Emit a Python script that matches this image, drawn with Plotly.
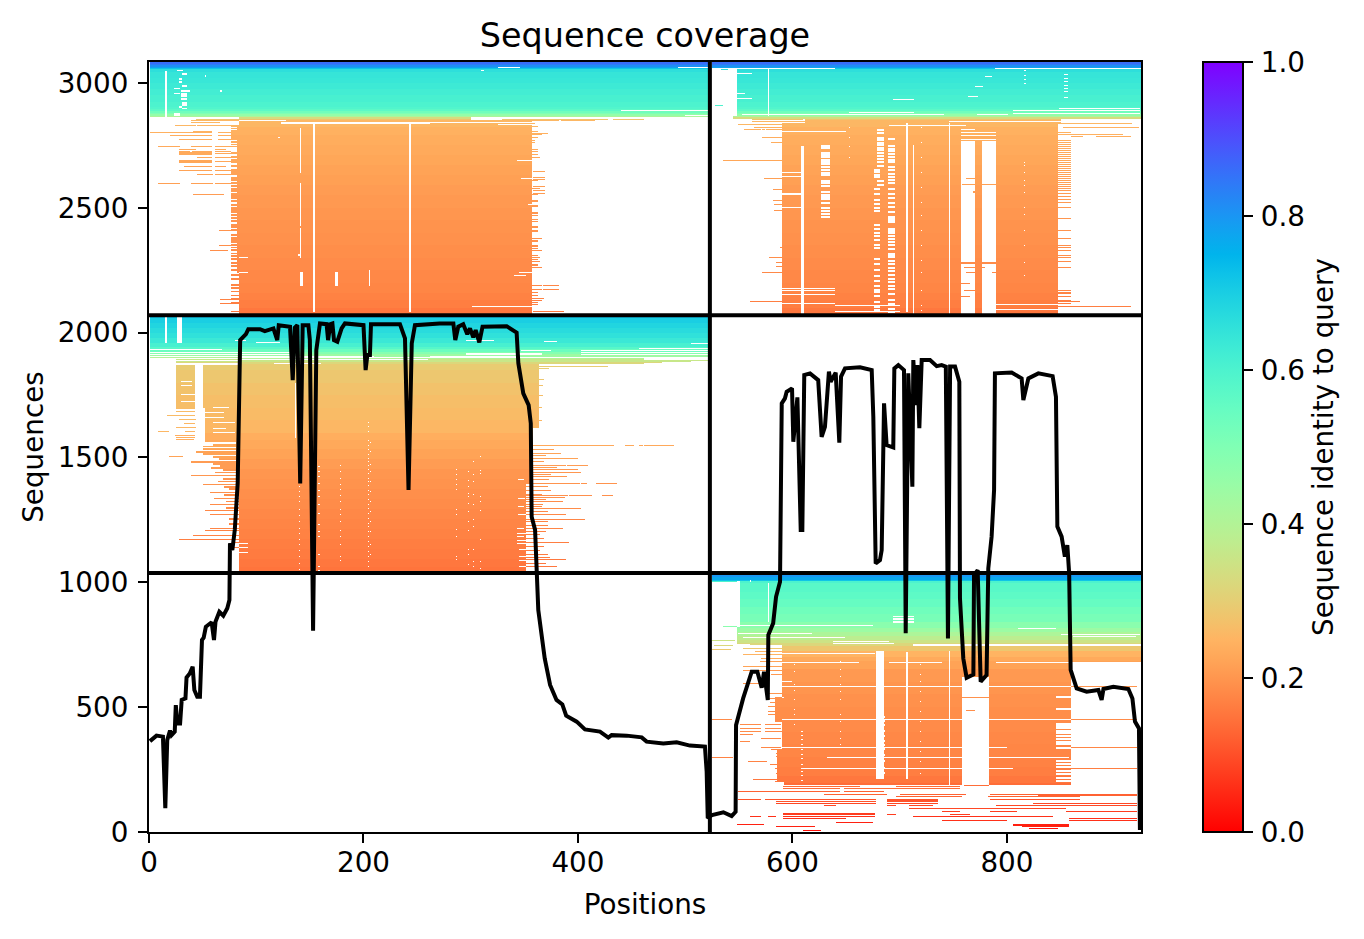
import math
import numpy as np
import plotly.graph_objects as go

N_SEQ = 3084
N_POS = 925
ROW = 4
SPLIT_POS = 523
SPLIT_SEQ = [1037, 2070]

# ---- coverage curve (position, sequences)
COV_POS = [0.9,7,13,15.2,17,19.6,21,24,25,26.4,29,30.5,34,35,38,40.7,42.3,45,47.5,49.4,51,53,58.4,60.6,62,65.6,69.3,73,75,75.5,
 77.7,80,82.7,84,85,90.4,92.6,103.5,108,116,119.6,121,131.5,134,136,138.3,141,143.3,148.6,150,153,156,159.4,165.6,167,169,171,172.5,175.6,179.6,182.7,200,202,203.6,206,207,234,238.7,242,245,248,271,
 283.8,285.6,288.4,293,296.8,299.3,302.4,304.6,308,311,333.5,342.8,344.4,349,354,356,356.8,360,362,363,369,374,380,385.4,389,398.8,406.5,420.5,428.3,431.4,445.4,459.4,464,479.6,492,504.4,518.4,520,521,
 525,535.6,543.3,547,547.4,554,560.4,562,567.3,571.3,573.5,577,577.5,582,584.7,588.4,590,593,594.6,599.6,600.8,604.6,607.7,609.2,611,616.4,624,627.2,630.3,634,635.6,640.3,643.7,645.3,649,663,673.9,675.4,677.6,681.6,683.2,685.4,687.8,694,695,698.7,704,705.6,708,711.8,712.7,715.2,716.5,718.3,720.5,728.3,734.5,739.1,743,745,747,751.6,755.6,756.2,759.3,762.4,768.7,769.3,772.7,775.5,781,782.6,785.7,788,788.8,804.4,813.7,815.3,820,829.3,842.6,845.7,847,851,854,856.3,858,859.4,865,874.3,885.2,888.3,890,899.2,913.2,917,919.4,923.1,924]
COV_SEQ = [364,386,382,95,368,406,388,402,508,435,435,529,535,619,635,662,569,542,542,769,778,822,840,769,842,882,866,896,929,1156,
 1129,1210,1396,1663,1970,1994,2014,2014,2006,2017,1970,2030,2024,1810,2020,2030,1396,2030,2030,1970,806,1930,2037,2034,1970,2034,2037,1970,1964,2017,2037,2030,1850,1910,1910,2034,2034,1977,1370,1957,2030,2037,
 2037,1970,2024,2034,1994,2017,1981,2010,1961,2024,2026,2000,1877,1757,1710,1637,1263,1210,1029,889,695,589,529,511,466,442,411,402,378,388,386,379,362,355,359,346,342,242,55,
 68,79,64,81,428,535,615,642,642,578,642,529,789,836,942,1002,1717,1737,1763,1777,1563,1741,1210,1210,1830,1837,1810,1583,1623,1844,1803,1840,1559,1824,1857,1861,1850,1663,1076,1089,1129,1717,1550,1540,1857,1870,1850,796,1837,1383,1890,1710,1870,1617,1890,1890,1866,1870,1864,775,1864,1864,1803,936,695,618,631,1029,1049,602,629,1056,1183,1370,1837,1840,1817,1730,1817,1837,1826,1743,1223,1183,1103,1149,1036,649,575,562,569,529,573,582,573,535,442,415,8]

# ---- identity per sequence band (upper edge of band, identity)
BAND_TOP = [3084,3076,3070,3064,3060,3056,3045,3020,3000,2975,2950,2925,2905,2895,2888,2880,2874,2868,2862,2856,2850,2825,2790,2750,2710,2670,2630,2590,2550,2500,2450,2400,2350,2300,2250,2200,2160,2130,2100,
 2070,2066,2060,2040,2020,2000,1980,1960,1945,1935,1925,1915,1905,1895,1885,1875,1850,1800,1750,1700,1650,1600,1570,1530,1490,1450,1410,1370,1330,1290,1250,1210,1170,1130,1090,1060,
 1037,1020,1008,1003,996,960,930,900,870,840,816,800,782,768,755,742,725,700,682,650,600,550,500,450,400,350,300,260,225,195,170,140,115,90,65,40,20]
BAND_ID = [.86,.84,.81,.78,.72,.66,.645,.64,.63,.62,.61,.60,.59,.57,.53,.50,.46,.41,.33,.28,.255,.245,.238,.232,.226,.22,.215,.21,.205,.20,.196,.192,.188,.184,.18,.176,.17,.165,.155,
 .90,.72,.70,.685,.67,.655,.635,.61,.58,.54,.49,.44,.40,.36,.32,.295,.285,.275,.268,.262,.255,.24,.23,.22,.21,.20,.195,.19,.185,.18,.175,.17,.165,.16,.155,.15,
 .80,.77,.72,.60,.575,.565,.55,.53,.515,.48,.445,.41,.38,.35,.32,.285,.25,.232,.22,.205,.198,.192,.188,.184,.18,.176,.17,.165,.155,.14,.125,.105,.09,.075,.06,.04,.02]

# ---- covered rectangles (seq_lo, seq_hi, pos_lo, pos_hi)
COVER = [
 (2865,3084,1,523),(2852,2865,84,300),(2070,2852,84,357),
 (3062,3084,525,925),(2865,3062,548,925),(2856,2865,545,925),(2838,2856,612,850),(2070,2838,590,847.5),
 (2240,2830,82,84),
 (1900,2070,1,523),(1877,1900,84,462),(1042,1877,84,344),(1623,1877,344,363.6),(1550,1623,344,358),(1395,1550,344,355),(1042,1395,344,352),
 (1703,1870,25,43),(1703,1870,50,84),(1565,1703,52,84),(1370,1565,81,84),
 (1003,1037,525,925),(755,1003,548,925),(682,755,590,925),(188,682,592,860),(330,682,590,592),(200,330,586,592),(440,540,584,590),
]
# ---- blank rectangles inside covered areas
GAPS = [
 # top-left block
 (2865,3048,15,16.5),(3048,3052,26,32),(3033,3037,31,35),(3014,3018,28,31),(3003,3007,28,31),(2985,2992,31,35),(2976,2980,23,29),(2966,2970,30,38),(2956,2960,23,29),(2945,2958,30,35),(2932,2938,30,35),(2909,2921,31,35),(2903,2907,28,31),(2896,2900,31,35),(2868,2878,23,29),
 (3024,3030,52,53),(2965,2969,66,68),
 (2084,2838,153,155),(2084,2838,242,243.5),(2640,2820,141,142),(2430,2600,141,142),(2300,2420,141,142),(2190,2244,141,144),(2191,2244,173,176),(2191,2251,205,206),
 (2310,2314,139,141),(2780,2784,120,122),
 # top-right block columns
 (2868,3056,577,578),(2084,2838,706,708),(2070,2750,712,713),(2070,2838,746,747),
 (2070,2765,757,770),(2070,2765,777,790),(2070,2745,608,611),
 (2440,2465,689,696),(2405,2420,689,696),(2300,2320,689,696),
 # middle block
 (1960,2066,15,16.5),(1960,2066,26,30.5),
 (1700,1870,43,50),(1565,1700,43,52),
 (1580,1800,136,137),
 # bottom-right block
 (215,722,678,685),(188,620,758,783),(215,720,706.5,708),(180,722,746,747),
 (842,996,577,578),(836,842,694,713),(849,853,694,713),(860,864,694,713),
 (820,1003,548,551),(1003,1008,560,561),
]
# ---- coloured single rows (seq, pos_lo, pos_hi)
STREAKS = [
 # top-left, left of main
 (2854,44,85),(2848,39,84),(2830,24,44),(2830,45,79),(2842,39,66),(2802,1,59),(2802,64,76),(2806,41,59),(2790,20,59),(2790,64,76),(2773,28,59),(2773,64,76),
 (2746,8,29),(2746,39,59),(2746,62,76),(2735,28,44),(2735,62,72),(2727,28,38),(2727,40,59),(2727,62,76),(2721,28,59),(2717,28,59),(2717,62,76),(2713,28,59),(2702,45,59),(2702,62,76),
 (2689,28,59),(2685,28,59),(2685,62,76),(2681,28,59),(2665,33,59),(2665,62,72),(2650,28,59),(2650,62,76),(2634,45,60),(2634,62,76),(2598,8,29),(2598,39,60),(2598,62,76),(2554,41,70),
 (2410,65,76),(2350,65,76),(2330,57,74),(2133,66,82),(2117,66,78),
 # top-left, right of main
 (2854,300,428),(2854,433,462),(2848,329,346),(2848,348,382),(2848,384,416),
 (2838,357,360),(2826,357,363),(2806,357,363),(2798,357,372),(2792,357,366),(2782,357,363),(2770,357,360),(2762,357,360),(2734,357,363),(2726,357,363),(2714,357,363),(2702,357,365),
 (2646,358,369),(2622,358,369),(2614,358,369),(2610,357,363),(2586,358,369),(2578,357,365),(2570,358,369),(2558,358,369),(2554,357,363),(2530,357,363),(2526,357,363),(2508,357,363),(2504,357,363),
 (2482,357,363),(2478,357,363),(2470,357,363),(2454,357,363),(2447,357,363),(2426,357,363),(2422,357,363),(2410,357,363),(2406,357,363),(2378,357,366),(2370,357,363),(2364,357,363),(2351,357,363),(2345,357,363),(2338,357,363),(2330,357,366),
 (2310,357,363),(2302,357,365),(2294,357,363),(2285,357,365),(2274,357,363),(2268,357,363),(2262,357,366),(2189,340,366),(2189,367,382),(2174,350,366),(2174,367,382),(2161,350,363),(2149,350,363),(2137,350,368),(2128,350,366),(2121,350,363),(2112,350,363),(2085,358,387),
 # top-right, left and right fringes
 (2852,562,610),(2845,562,630),(2832,549.5,630),(2821,564,590),(2812,555,571),(2812,572.5,590),(2782,572.5,590),(2762,580.6,590),(2690,535.6,590),(2618,573.4,590),(2574,582,590),(2530,582,590),(2514,583,590),(2491,583,590),(2342,588,590),(2302,578,590),(2282,585,590),(2266,585,590),(2242,572.5,590),(2127,560,590),
 (2836,845,916.5),(2821,852.5,923),(2794,860,908),(2784,860,871),(2784,883,916),(2168,847,856),(2127,847,868),(2105,847,916),
 (3055,533,540),(2908,528,535),(2690,535,590),
 # top-right, coloured bits over blank columns
 (2618,762,770),(2594,758,770),(2594,777,790),(2565,768,777),(2560,768,777),(2283,757,790),(2277,757,790),(2262,760,780),(2240,762,772),(2240,786,790),(2196,757,766),(2170,760,770),(2145,757,766),
 # middle block left of main
 (1866,84,100),(1605,8,19),(1500,19,32),(1699,25,43),(1685,25,43),(1670,17,43),(1653,28,44),(1638,33,43),(1621,25,44),(1605,34,43),(1590,24,43),(1583,25,43),(1574,25,42),
 (1893,25,84),(1886,25,84),(1880,25,84),
 # middle block right of main
 (1890,462,521),(1885,462,505),(1880,462,478),(1866,363.6,428),(1857,363.6,373),(1815,363.6,368),(1790,363.6,367),(1750,363.6,367),(1700,363.6,366),(1650,363.6,366),
 (1550,358,434),(1550,444,452),(1550,457,461),(1550,462,490),(1540,355,417),(1514,352,384),(1494,352,400),(1466,352,389),(1466,390,409),(1450,352,400),(1438,352,403),(1423,352,390),(1392,352,402),(1392,403,408),(1392,417,436),(1344,352,391),(1344,392,413),(1344,422,433),(1337,352,388),(1320,352,386),(1292,352,403),(1268,352,389),(1250,352,407),(1213,352,386),(1156,352,392),(1089,352,389),
 (1530,352,378),(1505,352,370),(1480,352,368),(1458,352,380),(1430,352,375),(1410,352,373),(1380,352,372),(1365,352,375),(1350,352,366),(1330,352,370),(1310,352,367),(1300,352,366),(1280,352,372),(1240,352,372),(1225,352,372),(1200,352,370),(1190,352,365),(1175,352,368),(1140,352,368),(1125,352,365),(1110,352,372),(1098,352,374),(1075,352,370),(1060,352,380),
 # bottom block, left side
 (822,535.6,547.4),(766,525,546),(744,527,545),(731,525,543),(810,548,552),(775,550,590),(760,552,590),(750,560,590),(735,554,590),(722,565,590),
 (709,554,590),(695,571,590),(682,570,590),(662,554,590),(645,554,590),(629,580,590),(595,554,571),(555,577.5,590),(535,577.5,590),(519,579,590),(502,577.5,590),(482,577.5,590),(469,577.5,590),
 (448,525,544),(428,551,571),(428,574,589),(415,551,571),(415,574,589),(402,551,571),(402,574,590),(388,551,563),(375,571,589),(362,551,560),(338,571,589),(328,580,592),(315,585,592),(302,585,592),(299,525,545),(282,559,576),(268,579,592),(255,584,592),(235,585,592),(208,563.5,589),(201,584.7,592),
 # bottom block, coloured rows outside main and across blanks
 (583,860,921),(448,860,921),(339,860,921),(252,860,921),(539,758,783),(484,762,770),(342,783,800),(185,760,783),
 # bottom block, lower rows
 (181,591.5,663),(181,697,756),(172,591.5,644),(172,648,756),(162,549.5,644),(162,648,685),(151,629,688),(151,700,762),(151,784,921),(147,829,921),(141,697,758),(141,782,868),(128,549.5,571),(128,574,678),(128,688,736),(128,784,868),(124,688,736),(120,585,678),(120,688,736),
 (114,585,678),(114,688,736),(114,824,921),(106,629,641),(106,688,697),(106,709,731),(106,790,921),(95,709,824),(95,762,855),(81,739,756),(81,784,809),(81,855,921),(75,591.5,677),(71,591.5,677),(71,688,697),(71,747,766),
 (61,560,571),(61,577,585),(61,591.5,677),(61,712,843),(52,591.5,650),(52,858,921),(45,739,800),(45,858,921),(39,641,675),(31,548,573),(31,806,858),(25,806,858),(21,585,621),(21,814,858),(12,821.5,848),(7,610,627),
]
# ---- rows of the fringe left of the middle block's main area (seq, pos_lo), running up to pos 84
MID_FRINGE_ROWS = [(1550,60.6),(1541,50.7),(1530,50.7),(1519,44.4),(1509,50.7),(1497,60),(1490,65),(1479,39.2),(1470,60),(1463,66),(1455,58),(1447,69),(1436,62),(1424,39.2),(1410,69),(1400,64),(1388,50.7),(1378,70),(1370,75.5),(1356,57.8),(1345,70),(1332,61.8),(1320,72),(1308,57.8),(1295,72),(1284,52.2),(1268,57.8),(1250,75.5),(1229,75.5),(1212,57.8),(1204,52.2),(1184,41.3),(1168,28),(1156,78.6),(1136,78.6)]
# ---- blank single rows (seq, pos_lo, pos_hi)
WHITE_ROWS = [
 # top-left
 (2848,84,128),(2840,123,523),(2838,123,262),(2105,301,357),(2690,343,357),(2618,347,357),(2512,353,357),(2302,84,92),(2241,84,92),(2855,300,329),(2240,345,357),(2229,340,352),
 (3060,325,346),(3060,493,523),(3050,310,312),(2890,440,523),(2870,500,523),(2835,325,357),
 # top-right
 (3056,532,640),(3056,789,925),(2872,553.5,741),(2872,772,801),(2882,653.6,712.7),(2879,806,924),(2896,849,924),(2888,806,924),(2932,694,713),(2985,770,778),(2945,764,773),(3025,780,786),(2958,548,556),(2938,548,562),(3038,548,562),
 (3032,853.4,856.6),(3016,853.4,856.6),(3006,853.4,856.6),(2990,853.4,856.6),(2978,853.4,856.6),(2965,853.4,856.6),(2942,853.4,856.6),(3050,816,818),(3030,816,818),(3015,816,818),(2998,816,818),
 (2846,746,850),(2828,690,762),(2806,590,650),(2640,590,610),(2624,590,610),(2558,590,610),(2552,590,610),(2502,590,610),(2178,590,640),(2170,590,640),(2154,590,640),(2116,590,640),(2108,640,700),(2085,640,700),(2115,790,847.5),(2095,790,847.5),
 (2815,757,770),(2800,757,790),(2790,757,790),(2775,757,790),
 # middle block
 (1968,80,90),(1960,100,122),(1933,1,68),(1920,1,132),(1913,1,136),(1901,84,270),(1905,1,210),(1894,84,260),(1877,117,160),
 (1969,296,322),(1965,368,380),(1919,296,366),(1912,296,366),(1903,262,340),(1930,403,521),(1936,457,521),(1928,347,375),(1923,403,521),(1913,403,521),(1907,262,345),(1957,505,521),(1900,340,521),
 (1805,30,40),(1790,30,40),(1752,30,43),(1725,30,43),(1700,60,75),(1680,50,70),(1662,52,70),(1640,60,80),(1618,60,72),(1602,60,80),
 (1155,84,92),(1137,84,92),(1118,84,92),
 (1410,344,350),(1335,344,351),(1300,344,350),(1270,344,352),(1215,343,350),(1195,343,352),(1180,343,350),(1165,343,352),(1155,343,352),(1130,345,352),(1100,345,352),(1085,345,352),(1060,345,352),
 # bottom block
 (826,548,675),(813,810,846),(795,549,618),(778,554,649),(760,638,690),(755,638,695),(748,712,925),(744,712,925),(790,850,924),(780,862,920),(713,588,677),(678,570,662),(678,690,739),(678,790,858),
 (583,590,860),(539,590,592),(448,590,860),(339,590,800),(299,632,858),(252,610,806),(600,590,600),
 (350,608,610),(330,608,610),(310,608,610),(295,608,610),(270,608,610),(255,608,610),(240,608,610),(225,608,610),(205,608,610),(400,608,610),(385,608,610),(368,608,610),
]
# ---- blank hatching in columns (pos_lo, pos_hi, seq rows)
HATCH = [
 (627,635,[2745,2736,2718,2710,2700,2691,2682,2672,2662,2651,2638,2630,2605,2596,2585,2562,2551,2541,2534,2518,2498,2485,2472,2462]),
 (679,685,[2808,2798,2778,2768,2758,2748,2738,2728,2716,2704,2692,2680,2665,2605,2590]),
 (676,682,[2650,2640,2630,2620,2575,2552,2530,2512,2498,2484,2430,2412,2398,2385,2370,2348,2338,2295,2275,2250,2225,2205,2185,2170,2160,2145,2120,2100,2088]),
 (689,696,[2775,2745,2735,2725,2712,2700,2690,2680,2660,2650,2635,2620,2608,2598,2575,2555,2538,2518,2500,2480,2398,2385,2372,2363,2350,2335,2285,2272,2258,2245,2228,2215,2200,2185,2172,2155,2130,2115,2095,2080]),
 (846,860,[539,491,431,421,412,402,395,382,368,358,348,332,282,271,257,242,231,215,201]),
 (678,686,[456,440,425,400,380,360,345,330,305,280,255,235]),
]
# ---- coloured rows of the top block's side fringes
TOP_FRINGE_LEFT_ROWS = [2825,2816,2806,2798,2790,2782,2773,2762,2752,2744,2717,2702,2690,2682,2665,2650,2642,2634,2618,2610,2598,2585,2575,2565,2554,2545,2538,2525,2511,2498,2490,2482,2471,2458,2447,2431,2423,2410,2391,2378,2370,2362,2350,2340,2330,2316,2306,2295,2278,2266,2251,2231,2215,2191,2177,2164,2148,2133,2117,2084]
TOP_FRINGE_RIGHT_ROWS = [2802,2794,2768,2762,2754,2746,2738,2730,2722,2714,2706,2698,2690,2682,2674,2666,2658,2650,2642,2634,2626,2618,2610,2602,2594,2586,2578,2570,2558,2545,2533,2522,2502,2458,2410,2378,2350,2342,2330,2310,2302,2286,2262,2168,2159,2145,2127,2117,2105]
BLANK_COL_HEAD_ROWS = [2826,2820,2812,2806,2796,2786,2778,2770]
COL_DOTS = [
 (204,[1640,1625,1605,1570,1548,1530,1510,1495,1480,1465,1450,1435,1415,1400,1385,1365,1350,1330,1310,1295,1275,1255,1235,1220,1200,1180,1160,1140,1120,1100,1080,1062]),
 (206,[1560,1520,1470,1440,1400,1360,1320,1280,1240,1200,1150,1110]),
 (178,[1465,1440,1415,1390,1370,1345,1320,1290,1270,1240,1205,1180,1150,1100,1085]),
 (158,[1460,1440,1420,1395,1365,1340,1310,1275,1230,1200,1180,1110,1060,1045]),
 (140,[1380,1360,1340,1320,1290,1265,1240,1215,1195,1170,1150,1125,1100,1075,1050]),
 (286,[1450,1430,1410,1390,1370,1290,1270,1210,1180,1100,1090]),
 (297,[1440,1405,1380,1355,1340,1315,1280,1240,1205,1130,1110,1070]),
 (302,[1480,1430,1400,1350,1310,1250,1220,1130,1080,1060]),
 (309,[1500,1445,1435,1340,1320,1285,1170,1080,1055]),
 (601,[670,640,590,565,530,490,470,430]),(644,[680,650,620,590,560,530,470,440,400,375,350]),(719,[670,630,600,560,520,480,440,400,360,320,280,235]),
 (720,[2820,2760,2700,2640,2580,2520,2470,2410,2350,2290,2240,2170,2110,2090]),
 (653,[2820,2780,2745,2700]),(574,[2840,2812,2790]),
 (816,[2680,2670,2640,2610,2590,2560,2500,2475,2410,2350,2280,2230]),
]
CBAR_TICKS = [0.0, 0.2, 0.4, 0.6, 0.8, 1.0]
X_TICKS = [0, 200, 400, 600, 800]
Y_TICKS = [0, 500, 1000, 1500, 2000, 2500, 3000]

# ---- build identity matrix
n_rows = N_SEQ // ROW + 1
mask = np.zeros((n_rows, N_POS), dtype=bool)
row_id = np.zeros(n_rows)
for r in range(n_rows):
    s = r * ROW + ROW / 2
    tops = [t for t in BAND_TOP if t >= s]
    vals = [v for t, v in zip(BAND_TOP, BAND_ID) if t >= s]
    row_id[r] = vals[int(np.argmin(tops))] if vals else BAND_ID[0]

def paint(s0, s1, p0, p1, value):
    r0, r1 = int(s0) // ROW, max(int(math.ceil(s1 / ROW)), int(s0) // ROW + 1)
    mask[r0:r1, int(p0):max(int(math.ceil(p1)), int(p0) + 1)] = value

for c in COVER:
    paint(*c, True)
for g in GAPS:
    paint(*g, False)
for s in STREAKS:
    paint(s[0], s[0] + 1, s[1], s[2], True)
for s, p in MID_FRINGE_ROWS:
    paint(s, s + 4, p, 84, True)
for s in TOP_FRINGE_LEFT_ROWS:
    paint(s, s + 4, 76.5, 84, True)
for s in TOP_FRINGE_RIGHT_ROWS:
    paint(s, s + 2, 847.5, 860, True)
for s in BLANK_COL_HEAD_ROWS:
    paint(s, s + 1, 757, 770, True)
    paint(s, s + 1, 777, 788, True)
paint(2070, 2765, 770, 777, True)
for w in WHITE_ROWS:
    paint(w[0], w[0] + 1, w[1], w[2], False)
for p0, p1, seqs in HATCH:
    for s in seqs:
        paint(s, s + 5, p0, p1, False)
for p, seqs in COL_DOTS:
    for s in seqs:
        paint(s, s + 1, p, p + 1, False)
mask[:, 523] = False

z = np.where(mask, row_id[:, None], np.nan).astype(np.float32)

# rainbow_r palette
def rainbow_r(v):
    x = 1 - v
    r = min(1, abs(2 * x - 0.5))
    g = math.sin(math.pi * x)
    b = math.cos(math.pi * x / 2)
    return f"rgb({round(r*255)},{round(g*255)},{round(b*255)})"
colorscale = [[i / 40, rainbow_r(i / 40)] for i in range(41)]

FONT = "DejaVu Sans"
TICK_SIZE = 27.8
fig = go.Figure()
fig.add_trace(go.Heatmap(
    z=z, x0=0.5, dx=1, y0=ROW / 2, dy=ROW, zmin=0, zmax=1, colorscale=colorscale,
    hoverinfo="skip",
    colorbar=dict(
        thickness=40, thicknessmode="pixels", len=770, lenmode="pixels",
        x=1203 / 1364, xref="container", xanchor="left", xpad=0,
        y=0.5, yanchor="middle", ypad=0,
        outlinecolor="black", outlinewidth=2,
        ticks="outside", ticklen=9, tickwidth=2, tickcolor="black",
        tickvals=CBAR_TICKS, ticktext=["\u200a" + f"{t:.1f}" for t in CBAR_TICKS],
        tickfont=dict(family=FONT, size=TICK_SIZE, color="black"),
        title=dict(text="Sequence identity to query", side="right",
                   font=dict(family=FONT, size=TICK_SIZE, color="black")),
    ),
))
fig.add_trace(go.Scatter(x=COV_POS, y=COV_SEQ, mode="lines", hoverinfo="skip", showlegend=False,
                         line=dict(color="black", width=4, shape="linear")))
for s in SPLIT_SEQ:
    fig.add_trace(go.Scatter(x=[0, N_POS], y=[s, s], mode="lines", hoverinfo="skip", showlegend=False,
                             line=dict(color="black", width=4)))
fig.add_trace(go.Scatter(x=[SPLIT_POS, SPLIT_POS], y=[0, N_SEQ], mode="lines", hoverinfo="skip", showlegend=False,
                         line=dict(color="black", width=4)))

axis = dict(showgrid=False, zeroline=False, showline=True, linecolor="black", linewidth=2, mirror=True,
            ticks="outside", ticklen=9, tickwidth=2, tickcolor="black",
            tickfont=dict(family=FONT, size=TICK_SIZE, color="black"))
fig.update_layout(
    width=1364, height=939, margin=dict(l=149, r=223, t=62, b=107),
    paper_bgcolor="white", plot_bgcolor="white", showlegend=False,
    font=dict(family=FONT, color="black"),
    title=dict(text="Sequence coverage", x=645 / 1364, xanchor="center", y=1 - 35 / 939, yanchor="middle",
               font=dict(family=FONT, size=33.4, color="black")),
    xaxis=dict(range=[0, N_POS], tickvals=X_TICKS, ticklabelstandoff=-4,
               title=dict(text="Positions", standoff=16, font=dict(family=FONT, size=TICK_SIZE, color="black")), **axis),
    yaxis=dict(range=[0, N_SEQ], tickvals=Y_TICKS, ticklabelstandoff=4,
               title=dict(text="Sequences", standoff=6, font=dict(family=FONT, size=TICK_SIZE, color="black")), **axis),
)
fig.write_html("out.html", config={"displayModeBar": False},
               post_script="document.body.style.margin='0';document.body.style.overflow='hidden';")
